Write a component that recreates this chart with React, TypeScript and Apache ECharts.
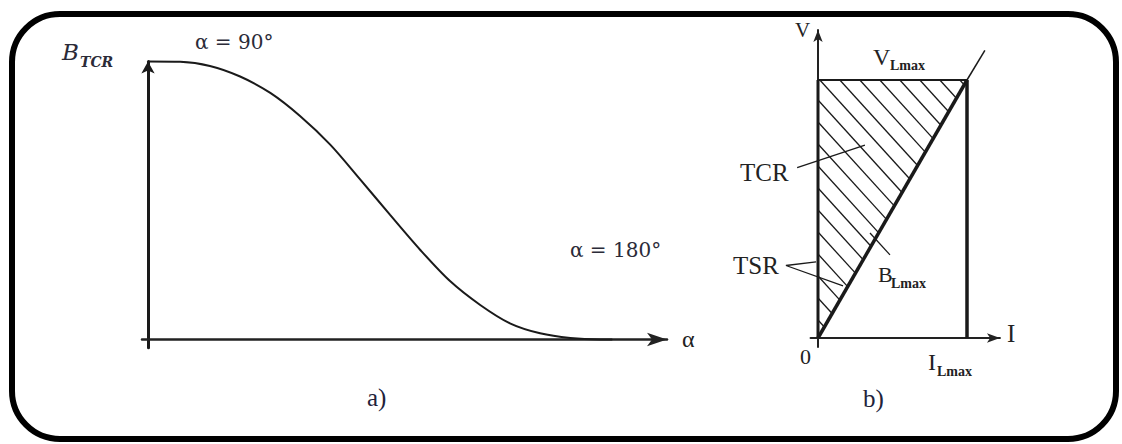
import React, { useEffect, useRef } from "react";
import * as echarts from "echarts";

// ---- Panel a) : TCR susceptance vs firing angle ----
const alphaDeg = [90, 96.8, 103.1, 109.5, 115.9, 122.2, 128.6, 134.9, 141.3, 147.7, 154, 160.4, 166.7, 173.1, 179.5, 185.8, 188.4];
const bTcr = [1, 0.999, 0.984, 0.946, 0.887, 0.804, 0.701, 0.577, 0.448, 0.322, 0.21, 0.124, 0.058, 0.022, 0.005, 0, 0];
const alphaAxisMin = 88.7;
const alphaAxisMax = 200;
const bAxisMin = -0.03;
const bAxisMax = 1;

// ---- Panel b) : V-I operating area ----
const iLmax = 1;
const vLmax = 1;
const iAxisMin = -0.05;
const iAxisMax = 1.221;
const vAxisMin = -0.035;
const vAxisMax = 1.194;
const boxLeft = [[0, 0], [0, vLmax]];
const boxTop = [[0, vLmax], [iLmax, vLmax]];
const boxRight = [[iLmax, 0], [iLmax, vLmax]];
const bLmaxLine = [[0, 0], [iLmax, vLmax]];
const bLmaxExt = [[iLmax, vLmax], [1.12, 1.115]];
const tcrLeader = [[-0.14, 0.66], [0.315, 0.748]];
const tsrLeader = [[-0.013, 0.295], [-0.215, 0.281], [0.168, 0.202]];
const bLmaxLeader = [[0.349, 0.407], [0.483, 0.322]];
// wider hidden frame with the same scale, so leaders left of the V axis are not clipped
const frameIMin = -0.8;
const frameIMax = 1.3;

const INK = "#1a1a1a";

function lineSeries(data: number[][], width: number) {
  return {
    type: "line",
    xAxisIndex: 2,
    yAxisIndex: 2,
    data,
    symbol: "none",
    clip: false,
    silent: true,
    lineStyle: { color: INK, width, cap: "butt" },
    z: 3,
  };
}

function txt(text: string, x: number, y: number, font: string, fill = "#222") {
  return {
    type: "text",
    x,
    y,
    silent: true,
    style: {
      text,
      font,
      fill,
      textAlign: "left",
      textVerticalAlign: "middle",
      align: "left",
      verticalAlign: "middle",
    },
  };
}

const hidden = {
  axisLine: { show: false },
  axisTick: { show: false },
  axisLabel: { show: false },
  splitLine: { show: false },
};

export default function App() {
  const ref = useRef<HTMLDivElement>(null);
  useEffect(() => {
    if (!ref.current) return;
    const chart = echarts.init(ref.current, null, { renderer: "svg" });
    const hatchSlope = 1.1;
    const hatchStep = 22;
    const hatchPhase = 20;
    const pxI = 149;
    const option: any = {
      animation: false,
      backgroundColor: "#ffffff",
      grid: [
        { left: 142, top: 61.5, width: 525, height: 286.3 },
        { left: 818 + iAxisMin * pxI, top: 338 - vAxisMax * 258, width: (iAxisMax - iAxisMin) * pxI, height: (vAxisMax - vAxisMin) * 258 },
        { left: 818 + frameIMin * pxI, top: 338 - vAxisMax * 258, width: (frameIMax - frameIMin) * pxI, height: (vAxisMax - vAxisMin) * 258 },
      ],
      xAxis: [
        {
          type: "value",
          gridIndex: 0,
          min: alphaAxisMin,
          max: alphaAxisMax,
          axisLine: {
            show: true,
            onZero: true,
            symbol: ["none", "arrow"],
            symbolSize: [10, 20],
            lineStyle: { color: "#222", width: 2.5 },
          },
          axisTick: { show: false },
          axisLabel: { show: false },
          splitLine: { show: false },
        },
        {
          type: "value",
          gridIndex: 1,
          min: iAxisMin,
          max: iAxisMax,
          axisLine: {
            show: true,
            onZero: true,
            symbol: ["none", "arrow"],
            symbolSize: [7, 13],
            lineStyle: { color: "#222", width: 2 },
          },
          axisTick: { show: false },
          axisLabel: { show: false },
          splitLine: { show: false },
        },
        { type: "value", gridIndex: 2, min: frameIMin, max: frameIMax, ...hidden },
      ],
      yAxis: [
        {
          type: "value",
          gridIndex: 0,
          min: bAxisMin,
          max: bAxisMax,
          offset: -6,
          axisLine: {
            show: true,
            onZero: false,
            symbol: ["none", "arrow"],
            symbolSize: [10, 12],
            lineStyle: { color: INK, width: 3 },
          },
          axisTick: { show: false },
          axisLabel: { show: false },
          splitLine: { show: false },
        },
        {
          type: "value",
          gridIndex: 1,
          min: vAxisMin,
          max: vAxisMax,
          axisLine: {
            show: true,
            onZero: true,
            symbol: ["none", "arrow"],
            symbolSize: [7, 12],
            lineStyle: { color: "#222", width: 2 },
          },
          axisTick: { show: false },
          axisLabel: { show: false },
          splitLine: { show: false },
        },
        { type: "value", gridIndex: 2, min: vAxisMin, max: vAxisMax, ...hidden },
      ],
      series: [
        {
          type: "line",
          xAxisIndex: 0,
          yAxisIndex: 0,
          data: alphaDeg.map((a, i) => [a, bTcr[i]]),
          symbol: "none",
          smooth: 0.3,
          clip: false,
          silent: true,
          lineStyle: { color: INK, width: 2 },
        },
        {
          type: "custom",
          xAxisIndex: 2,
          yAxisIndex: 2,
          silent: true,
          clip: false,
          data: [[0, 0]],
          z: 2,
          renderItem: (params: any, api: any) => {
            const p0 = api.coord([0, 0]);
            const p1 = api.coord([0, vLmax]);
            const p2 = api.coord([iLmax, vLmax]);
            const tri = [p0, p1, p2];
            const cs = tri.map((p: number[]) => p[1] - hatchSlope * p[0]);
            const cMin = Math.min(...cs);
            const cMax = Math.max(...cs);
            const c0 = p1[1] - hatchSlope * p1[0] + hatchPhase;
            const k = Math.ceil((cMin - c0) / hatchStep);
            const children: any[] = [];
            for (let c = c0 + k * hatchStep; c < cMax; c += hatchStep) {
              const pts: number[][] = [];
              for (let e = 0; e < 3; e++) {
                const a = tri[e];
                const b = tri[(e + 1) % 3];
                const fa = a[1] - hatchSlope * a[0] - c;
                const fb = b[1] - hatchSlope * b[0] - c;
                if ((fa <= 0 && fb > 0) || (fa > 0 && fb <= 0)) {
                  const t = fa / (fa - fb);
                  pts.push([a[0] + t * (b[0] - a[0]), a[1] + t * (b[1] - a[1])]);
                }
              }
              if (pts.length >= 2) {
                children.push({
                  type: "line",
                  shape: { x1: pts[0][0], y1: pts[0][1], x2: pts[1][0], y2: pts[1][1] },
                  style: { stroke: INK, lineWidth: 1.3 },
                });
              }
            }
            return { type: "group", children };
          },
        },
        lineSeries(boxLeft, 3),
        lineSeries(boxTop, 2),
        lineSeries(boxRight, 3.5),
        lineSeries(bLmaxLine, 3.5),
        lineSeries(bLmaxExt, 1.5),
        lineSeries(tcrLeader, 1.3),
        lineSeries(tsrLeader, 1.3),
        lineSeries(bLmaxLeader, 1.3),
      ],
      graphic: [
        {
          type: "rect",
          silent: true,
          shape: { x: 12, y: 14, width: 1104, height: 425, r: 48 },
          style: { fill: "none", stroke: "#000", lineWidth: 6 },
          z: 10,
        },
        // panel a
        txt("B", 62, 52, "italic 23px 'DejaVu Serif'", "#2b2b38"),
        txt("TCR", 80, 62, "italic bold 14px 'DejaVu Serif'", "#2b2b38"),
        txt("α = 90°", 195, 42, "20px 'DejaVu Serif'", "#2b2b38"),
        txt("α = 180°", 570, 250, "20px 'DejaVu Serif'", "#2b2b38"),
        txt("α", 682, 339, "24px 'Liberation Serif'", "#222"),
        txt("a)", 367, 397, "25px 'Liberation Serif'", "#22223a"),
        // panel b
        txt("V", 795, 30, "21px 'Liberation Serif'"),
        txt("V", 873, 57, "24px 'Liberation Serif'"),
        txt("Lmax", 890, 65, "bold 14px 'Liberation Serif'"),
        txt("TCR", 740, 172, "25px 'Liberation Serif'"),
        txt("TSR", 733, 265, "25px 'Liberation Serif'"),
        txt("B", 878, 274, "22px 'Liberation Serif'"),
        txt("Lmax", 891, 283, "bold 14px 'Liberation Serif'"),
        txt("0", 800, 356, "22px 'Liberation Serif'"),
        txt("I", 1007, 333, "25px 'Liberation Serif'"),
        txt("I", 928, 362, "24px 'Liberation Serif'"),
        txt("Lmax", 937, 371, "bold 14px 'Liberation Serif'"),
        txt("b)", 863, 398, "25px 'Liberation Serif'", "#22223a"),
      ],
    };
    chart.setOption(option);
    return () => chart.dispose();
  }, []);
  return (
    <div
      ref={ref}
      style={{ position: "fixed", left: 0, top: 0, width: 1122, height: 444, background: "#fff" }}
    />
  );
}
